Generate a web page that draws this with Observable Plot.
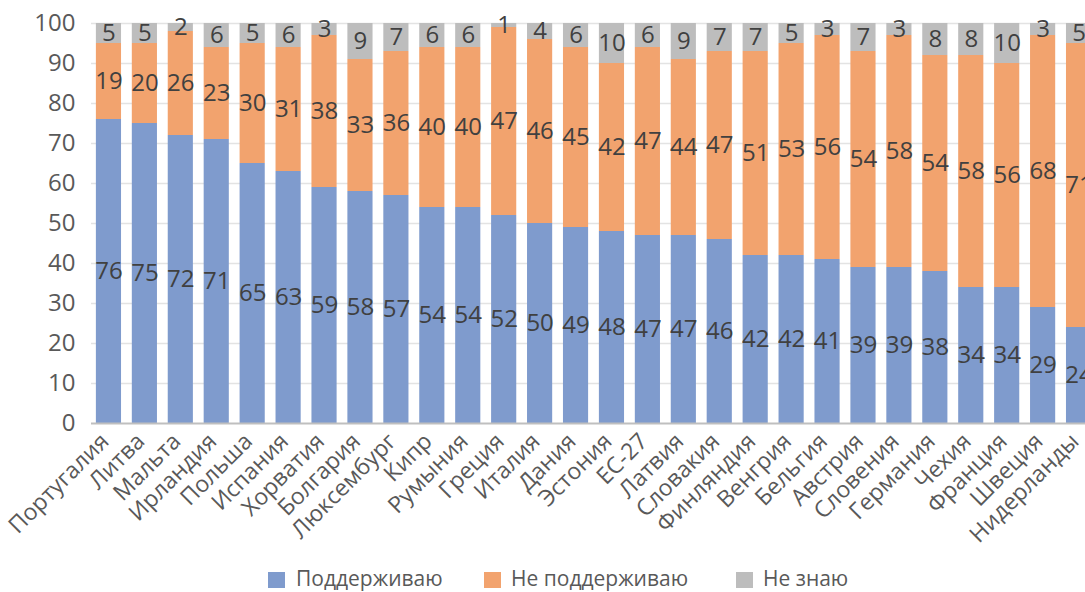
<!DOCTYPE html>
<html>
<head>
<meta charset="utf-8">
<script src="https://cdn.jsdelivr.net/npm/d3@7"></script>
<script src="https://cdn.jsdelivr.net/npm/@observablehq/plot@0.6"></script>
<style>
  html, body { margin: 0; padding: 0; overflow: hidden; background: #fff; }
  #chart { position: relative; width: 1085px; height: 592px; font-family: "Open Sans", sans-serif; overflow: hidden; }
  #chart svg { max-width: none !important; }
  #legend { position: absolute; left: 0; top: 560px; width: 1085px; height: 32px; }
  .li { position: absolute; top: 4px; font-size: 21px; color: #595959; line-height: 28px; white-space: nowrap; }
  .sw { position: absolute; top: 12px; width: 17px; height: 16px; }
</style>
</head>
<body>
<div id="chart"></div>
<script>
const countries = ["Португалия","Литва","Мальта","Ирландия","Польша","Испания","Хорватия","Болгария","Люксембург","Кипр","Румыния","Греция","Италия","Дания","Эстония","ЕС-27","Латвия","Словакия","Финляндия","Венгрия","Бельгия","Австрия","Словения","Германия","Чехия","Франция","Швеция","Нидерланды"];
const support  = [76,75,72,71,65,63,59,58,57,54,54,52,50,49,48,47,47,46,42,42,41,39,39,38,34,34,29,24];
const oppose   = [19,20,26,23,30,31,38,33,36,40,40,47,46,45,42,47,44,47,51,53,56,54,58,54,58,56,68,71];
const dontKnow = [5,5,2,6,5,6,3,9,7,6,6,1,4,6,10,6,9,7,7,5,3,7,3,8,8,10,3,5];
const seriesNames = ["Поддерживаю","Не поддерживаю","Не знаю"];
const seriesColors = ["#7f9bcd","#f2a36e","#bdbdbd"];
const yTicks = [0,10,20,30,40,50,60,70,80,90,100];

const seriesValues = [support, oppose, dontKnow];
const data = [];
seriesNames.forEach((s, i) => countries.forEach((c, j) => data.push({country: c, series: s, value: seriesValues[i][j]})));

const plot = Plot.plot({
  width: 1085,
  height: 560,
  marginLeft: 91,
  marginRight: 0,
  marginTop: 23,
  marginBottom: 137,
  style: {fontFamily: "'Open Sans', sans-serif", overflow: "visible"},
  x: {domain: countries, range: [85.1, 1101.9], padding: 0.3, align: 0.5, round: false, label: null},
  y: {domain: [0, 100], label: null},
  color: {domain: seriesNames, range: seriesColors},
  marks: [
    Plot.ruleY(yTicks.filter(d => d > 0), {stroke: "#e3e3e3", strokeWidth: 1.3}),
    Plot.barY(data, {x: "country", y: "value", fill: "series", order: seriesNames}),
    Plot.ruleY([0], {stroke: "#bfbfbf", strokeWidth: 2}),
    Plot.text(data, Plot.stackY({x: "country", y: "value", z: "series", order: seriesNames, text: d => String(d.value), fill: "#404040", fontSize: 24})),
    Plot.axisY({ticks: yTicks, tickSize: 0, tickPadding: 16, fontSize: 24, color: "#595959", label: null}),
    Plot.axisX({tickSize: 0, tickRotate: -45, tickPadding: 14, dx: -4, fontSize: 23, color: "#595959", label: null})
  ]
});
document.getElementById("chart").appendChild(plot);

const legend = document.createElement("div");
legend.id = "legend";
const positions = [[268, 296], [484, 511], [736, 763]];
seriesNames.forEach((s, i) => {
  const sw = document.createElement("div");
  sw.className = "sw";
  sw.style.left = positions[i][0] + "px";
  sw.style.background = seriesColors[i];
  const t = document.createElement("div");
  t.className = "li";
  t.style.left = positions[i][1] + "px";
  t.textContent = s;
  legend.appendChild(sw);
  legend.appendChild(t);
});
document.getElementById("chart").appendChild(legend);
</script>
</body>
</html>
